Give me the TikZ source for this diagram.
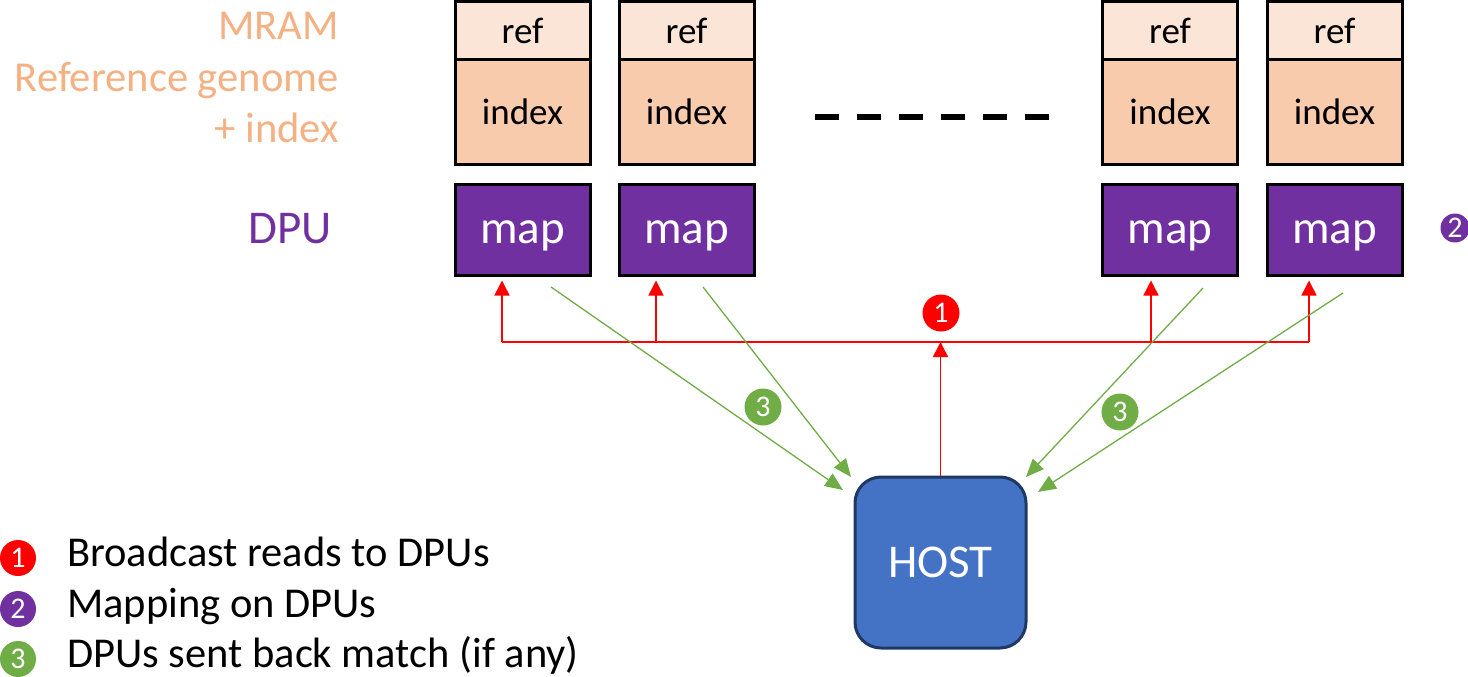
\documentclass[tikz,border=0pt]{standalone}
\usepackage{fontspec}
\setmainfont{Carlito}
\usetikzlibrary{arrows.meta}
\definecolor{refc}{HTML}{FBE5D6}
\definecolor{idxc}{HTML}{F8CBAD}
\definecolor{lblc}{HTML}{F4B183}
\definecolor{dpuc}{HTML}{7030A0}
\definecolor{grn}{HTML}{70AD47}
\definecolor{hostc}{HTML}{4472C4}
\definecolor{hostb}{HTML}{1F3864}
\begin{document}
\begin{tikzpicture}[x=1pt,y=-1pt,
  box/.style={draw=black,line width=3pt,minimum width=135pt,inner sep=0pt,anchor=center},
  refbox/.style={box,fill=refc,minimum height=59pt,font=\fontsize{37}{44}\selectfont},
  idxbox/.style={box,fill=idxc,minimum height=104pt,font=\fontsize{37}{44}\selectfont},
  mapbox/.style={box,fill=dpuc,minimum height=91pt,text=white,text height=28pt,text depth=0pt,font=\fontsize{47}{54}\selectfont},
  num/.style={circle,inner sep=0pt,text=white,font=\fontsize{30}{30}\selectfont},
  redarr/.style={draw=red,line width=1.5pt,-{Triangle[length=15pt,width=15pt]}},
  redline/.style={draw=red,line width=1.5pt},
  grnarr/.style={draw=grn,line width=1.3pt,-{Triangle[length=18pt,width=15pt]}},
  lbl/.style={anchor=base east,inner sep=0pt,text=lblc,font=\fontsize{42.6}{50}\selectfont},
  legtxt/.style={anchor=base west,inner sep=0pt,font=\fontsize{42.5}{50}\selectfont}
]
\useasboundingbox (0,0) rectangle (1468,677);
% labels
\node[lbl] (mram) at (339,40) {MRAM};
\node[lbl] (refg) at (339,92) {Reference genome};
\node[lbl] (pidx) at (339,142) {+ index};
\node[anchor=base east,inner sep=0pt,text=dpuc,font=\fontsize{47}{54}\selectfont] (dpul) at (332,243) {DPU};
% columns
\foreach \i/\cx in {1/522.5,2/686.5,3/1170,4/1334.5}{
  \node[refbox] (ref\i) at (\cx,31) {ref};
  \node[idxbox] (idx\i) at (\cx,112) {index};
  \node[mapbox] (map\i) at (\cx,229.5) {map};
}
% dashes
\draw[line width=6pt,dash pattern=on 24pt off 18pt] (815,117) -- (1050,117);
% host
\node[draw=hostb,fill=hostc,line width=3pt,rounded corners=26pt,minimum width=171pt,minimum height=171pt,text=white,font=\fontsize{47}{54}\selectfont] (host) at (940.5,562.5) {HOST};
% red broadcast
\coordinate (b1) at (502,342);
\coordinate (b2) at (656,342);
\coordinate (b3) at (1151,342);
\coordinate (b4) at (1309,342);
\draw[redline] (b1) -- (b4);
\foreach \i in {1,2,3,4}{
  \draw[redarr,shorten >=4pt] (b\i) -- (b\i |- map\i.south);
}
\draw[redarr] (host.north) -- (host.north |- b1);
% green
\coordinate (g1s) at (551,287);
\coordinate (g1e) at (843,490);
\coordinate (g2s) at (703,287);
\coordinate (g2e) at (851,477);
\coordinate (g3s) at (1203,288);
\coordinate (g3e) at (1026,477);
\coordinate (g4s) at (1343,293);
\coordinate (g4e) at (1038,492);
\draw[grnarr] (g1s) -- (g1e);
\draw[grnarr] (g2s) -- (g2e);
\draw[grnarr] (g3s) -- (g3e);
\draw[grnarr] (g4s) -- (g4e);
% numbers
\node[num,fill=red,minimum size=37pt] (n1) at (941,313) {1};
\node[num,fill=dpuc,minimum size=29pt] (n2) at (1455,228) {2};
\node[num,fill=grn,minimum size=37pt] (n3a) at (763,407) {3};
\node[num,fill=grn,minimum size=37pt] (n3b) at (1120,412) {3};
% legend
\node[num,fill=red,minimum size=36pt] (l1) at (18,558) {1};
\node[num,fill=dpuc,minimum size=36pt] (l2) at (18,609) {2};
\node[num,fill=grn,minimum size=36pt] (l3) at (18,659) {3};
\node[legtxt] (t1) at (67,566) {Broadcast reads to DPUs};
\node[legtxt] (t2) at (67,617) {Mapping on DPUs};
\node[legtxt] (t3) at (67,667) {DPUs sent back match (if any)};
\end{tikzpicture}
\end{document}
